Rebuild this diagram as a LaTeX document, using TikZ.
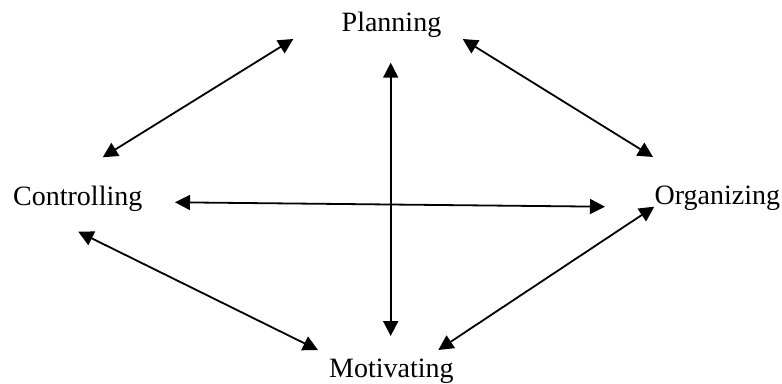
\documentclass[tikz,border=0pt]{standalone}
\usepackage{fontspec}
\setmainfont{Liberation Serif}
\usetikzlibrary{arrows.meta}
\begin{document}
\begin{tikzpicture}[x=1pt,y=-1pt,
  lbl/.style={inner sep=0pt,anchor=base west,font=\fontsize{28}{34}\selectfont},
  link/.style={line width=1.8pt,{Triangle[length=15pt,width=15pt]}-{Triangle[length=15pt,width=15pt]}}]
\useasboundingbox (0,0) rectangle (782,383);
\node[lbl] (plan) at (341.5,31.7) {Planning};
\node[lbl] (ctrl) at (13,205) {Controlling};
\node[lbl] (org) at (654.5,204) {Organizing};
\node[lbl] (mot) at (329,377) {Motivating};
% arrow end points
\coordinate (pc1) at (293.3,39);
\coordinate (pc2) at (102.7,157.3);
\coordinate (po1) at (462.7,39);
\coordinate (po2) at (653,157);
\coordinate (cm1) at (78.3,231.7);
\coordinate (cm2) at (318,350);
\coordinate (mo1) at (438.3,350);
\coordinate (mo2) at (654.3,206.7);
\coordinate (v1) at (390.7,62.7);
\coordinate (v2) at (390.7,336);
\coordinate (h1) at (175,202.3);
\coordinate (h2) at (605,206.7);
\draw[link] (pc1) -- (pc2);
\draw[link] (po1) -- (po2);
\draw[link] (cm1) -- (cm2);
\draw[link] (mo1) -- (mo2);
\draw[link] (v1) -- (v2);
\draw[link] (h1) -- (h2);
\end{tikzpicture}
\end{document}
